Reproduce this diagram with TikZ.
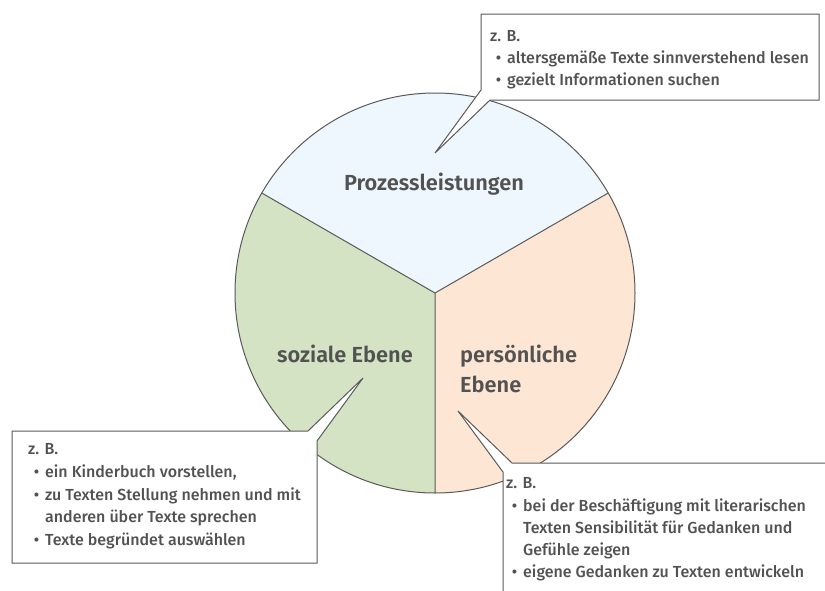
\documentclass[tikz,border=0pt]{standalone}
\usepackage{fontspec}
\setmainfont{Fira Sans SemiBold}
\newfontfamily\medfont{Fira Sans Medium}
\definecolor{inkc}{HTML}{525252}
\definecolor{linec}{HTML}{5A5A5A}
\definecolor{topc}{HTML}{EEF6FE}
\definecolor{leftc}{HTML}{D3E3C3}
\definecolor{rightc}{HTML}{FEE6D4}
\tikzset{
  callout/.style={draw=linec, line width=1pt, fill=white, line join=miter},
  lbl/.style={anchor=base west, inner sep=0pt, text=inkc, font=\medfont\fontsize{16}{18}\selectfont},
  big/.style={anchor=base, inner sep=0pt, text=inkc, font=\fontsize{21.8}{24}\selectfont},
  bigl/.style={anchor=base west, inner sep=0pt, text=inkc, font=\fontsize{21.8}{24}\selectfont},
}
\newcommand{\bul}{\makebox[0pt][r]{•\hspace{6pt}}}
\begin{document}
\begin{tikzpicture}[x=1pt,y=-1pt]
\useasboundingbox (0,0) rectangle (825,590);
\fill[white] (0,0) rectangle (825,590);
\coordinate (C) at (435,293);
\coordinate (UL) at (261.8,193);
\coordinate (UR) at (608.2,193);
\coordinate (B) at (435,493);
% sectors
\fill[topc] (C) -- (UL) arc[start angle=210, end angle=330, radius=200] -- cycle;
\fill[rightc] (C) -- (UR) arc[start angle=-30, end angle=90, radius=200] -- cycle;
\fill[leftc] (C) -- (B) arc[start angle=90, end angle=210, radius=200] -- cycle;
\draw[linec, line width=1pt] (C) circle[radius=200];
\draw[linec, line width=1pt] (UL) -- (C) -- (UR) (C) -- (B);
% labels
\node[big] (proz) at (434,190) {Prozessleistungen};
\node[big] (soz) at (345,362) {soziale Ebene};
\node[bigl] (pers1) at (460,362) {persönliche};
\node[bigl] (pers2) at (460,392) {Ebene};
% callouts
\begin{scope}
\clip (0,0) rectangle (825,590);
\draw[callout] (481,14) -- (819,14) -- (819,100) -- (490,100) -- (435,153) -- (481,90) -- cycle;
\draw[callout] (12,431) -- (308,431) -- (363,378) -- (317,441) -- (317,563) -- (12,563) -- cycle;
\draw[callout] (512,463) -- (840,463) -- (840,610) -- (503,610) -- (503,472) -- (458,411) -- cycle;
\end{scope}
% top box text
\node[lbl] (t0) at (490,41) {z. B.};
\node[lbl] (t1) at (507,63) {\bul altersgemäße Texte sinnverstehend lesen};
\node[lbl] (t2) at (507,85) {\bul gezielt Informationen suchen};
% left box text
\node[lbl] (l0) at (28,454) {z. B.};
\node[lbl] (l1) at (45,477) {\bul ein Kinderbuch vorstellen,};
\node[lbl] (l2) at (45,500) {\bul zu Texten Stellung nehmen und mit};
\node[lbl] (l3) at (45,522) {anderen über Texte sprechen};
\node[lbl] (l4) at (45,545) {\bul Texte begründet auswählen};
% right box text
\node[lbl] (r0) at (506,488) {z. B.};
\node[lbl] (r1) at (523,511) {\bul bei der Beschäftigung mit literarischen};
\node[lbl] (r2) at (523,533) {Texten Sensibilität für Gedanken und};
\node[lbl] (r3) at (523,555) {Gefühle zeigen};
\node[lbl] (r4) at (523,577) {\bul eigene Gedanken zu Texten entwickeln};
\end{tikzpicture}
\end{document}
